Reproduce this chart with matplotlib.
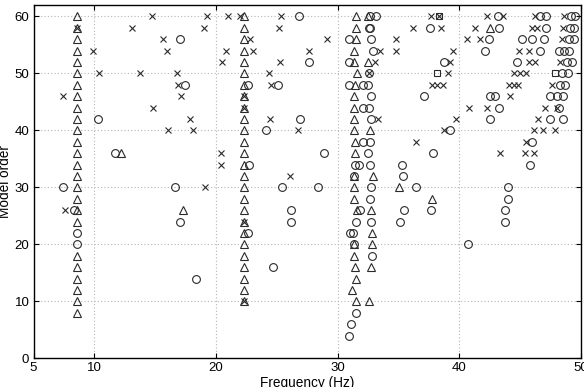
import matplotlib
matplotlib.use("Agg")
import matplotlib.pyplot as plt

# ---- data: stabilisation diagram (frequency in Hz, model order) ----
tri_freq = [8.58]*25 + [12.2, 17.3] + [22.3]*26 + [
    31.5, 31.5, 31.5, 31.36, 31.36, 31.6, 31.44, 31.36, 31.36, 31.36, 31.36, 31.44, 31.44,
    31.36, 31.36, 31.36, 31.6, 31.36, 31.36, 31.4, 31.5, 31.2, 31.5,
    32.5, 32.48, 32.67, 32.9, 32.73, 32.86, 32.8, 32.7, 32.6,
    35.0, 37.75, 42.5]
tri_order = [60, 58, 56, 54, 52, 50, 48, 46, 44, 42, 40, 38, 36, 34, 32, 30, 28, 26, 24,
             18, 16, 14, 12, 10, 8] + [36, 26] + [
    60, 58, 56, 54, 52, 50, 48, 46, 44, 42, 40, 38, 36, 34, 32, 30, 28, 26, 24, 22, 20,
    18, 16, 14, 12, 10] + [
    60, 58, 56, 54, 52, 50, 48, 46, 44, 42, 40, 38, 36,
    32, 30, 28, 26, 20, 18, 16, 14, 12, 10,
    60, 52, 40, 32, 26, 22, 20, 16, 10,
    30, 28, 58]

circ_freq = [7.45, 8.35, 8.58, 8.58, 10.28, 11.7, 16.6, 17.0, 17.46, 17.05, 18.34,
             22.67, 22.75, 22.67, 24.1, 24.7, 25.1, 25.46, 26.15, 26.15, 26.83, 26.9,
             27.66, 28.37, 28.9, 30.95, 30.95, 30.95, 31.0, 31.3, 31.5, 31.36, 31.36,
             31.85, 31.44, 31.77, 31.5, 31.08, 30.95,
             32.65, 33.15, 32.55, 32.65, 32.73, 32.9, 32.6, 32.1, 32.5, 32.73, 32.12, 32.6,
             32.73, 32.07, 32.67, 32.53, 32.67, 32.75, 32.67, 32.75, 32.8,
             35.25, 35.4, 35.47, 35.14, 36.43, 37.7, 37.6, 37.06, 37.8, 38.76, 39.2, 40.7,
             42.07, 42.46, 42.54, 42.54, 42.95, 43.14, 43.28, 43.22, 43.96, 43.96, 43.77,
             43.77, 44.74, 45.15, 46.0, 46.98, 46.65, 45.8, 46.0, 46.65, 47.1, 47.1,
             47.47, 48.0, 48.5, 48.2, 47.47, 48.5, 48.16, 48.62, 49.04, 48.85, 49.26,
             48.44, 48.9, 48.3, 48.7, 49.17, 49.53, 49.1, 49.45, 49.0, 49.4]
circ_order = [30, 26, 22, 20, 42, 36, 30, 56, 48, 24, 14,
              48, 34, 22, 40, 16, 48, 30, 26, 24, 60, 42,
              52, 30, 36, 56, 52, 48, 22, 22, 24, 20, 32,
              26, 34, 34, 8, 6, 4,
              60, 60, 58, 58, 56, 54, 50, 48, 48, 46, 44, 44,
              42, 38, 38, 36, 34, 30, 28, 24, 18,
              34, 32, 26, 24, 30, 26, 58, 46, 36, 52, 40, 20,
              54, 56, 46, 42, 46, 60, 58, 44, 30, 28, 26,
              24, 52, 56, 56, 56, 54, 34, 38, 60, 60, 58,
              46, 46, 46, 44, 42, 42, 54, 54, 54, 52, 52,
              50, 50, 48, 48, 60, 60, 58, 58, 56, 56]

cross_freq = [7.4, 7.59, 8.58, 9.87, 10.41, 13.07, 13.76, 14.7, 14.85, 15.67, 15.95,
              16.05, 16.78, 16.86, 17.1, 17.87, 18.09, 19.1, 19.24, 19.05, 20.4, 20.4,
              20.47, 20.8, 21.02, 21.98, 22.3, 22.3, 22.3, 22.3, 22.8, 23.08, 24.37,
              24.4, 24.53, 25.2, 25.27, 25.35, 26.1, 26.7, 27.66, 29.1, 32.6, 33.03,
              33.35, 33.5, 34.8, 34.8, 36.2, 36.45, 37.7, 38.5, 38.3, 37.75, 38.2, 38.65,
              38.7, 39.03, 39.25, 39.5, 39.72, 40.62, 40.76, 41.3, 41.72, 42.27, 42.27,
              43.36, 43.63, 44.13, 44.46, 44.05, 44.46, 44.82, 44.87, 45.0, 45.5, 45.5,
              45.4, 46.1, 45.7, 45.7, 46.24, 46.0, 46.4, 46.24, 46.1, 46.9, 47.9, 46.5,
              47.06, 47.6, 48.0, 48.3, 48.44, 48.5, 48.6]
cross_order = [46, 26, 58, 54, 50, 58, 50, 60, 44, 56, 54,
               40, 50, 48, 46, 42, 40, 30, 60, 58, 36, 34,
               52, 54, 60, 60, 46, 44, 24, 10, 56, 54, 50,
               42, 48, 58, 52, 60, 32, 40, 54, 56, 50, 52,
               42, 54, 56, 54, 58, 38, 60, 58, 60, 48, 48, 48,
               40, 50, 52, 54, 42, 56, 44, 58, 56, 60, 44,
               36, 60, 46, 50, 48, 48, 48, 54, 50, 50, 38,
               36, 36, 54, 52, 52, 58, 58, 60, 40, 40, 40, 42,
               44, 48, 44, 52, 56, 58, 60]

sq_freq = [38.3, 38.2, 47.9]
sq_order = [60, 50, 50]

x_ticks = [5, 10, 20, 30, 40, 50]
y_ticks = [0, 10, 20, 30, 40, 50, 60]

# ---- figure ----
plt.rcParams['font.family'] = ['Liberation Sans', 'DejaVu Sans']
fig = plt.figure(figsize=(5.84, 3.87), dpi=100)
ax = fig.add_axes([33.5/584, 1 - 358.3/387, (581 - 33.5)/584, (358.3 - 5)/387])

mc = '#2a2a2a'
ax.plot(tri_freq, tri_order, linestyle='none', marker='^', ms=6.2, mfc='none',
        mec=mc, mew=0.8)
ax.plot(circ_freq, circ_order, linestyle='none', marker='o', ms=5.6, mfc='none',
        mec=mc, mew=0.8)
ax.plot(cross_freq, cross_order, linestyle='none', marker='x', ms=3.8, mfc='none',
        mec=mc, mew=0.8)
ax.plot(sq_freq, sq_order, linestyle='none', marker='s', ms=4.6, mfc='none',
        mec=mc, mew=0.8)

ax.set_xlim(5, 50)
ax.set_ylim(0, 62)
ax.set_xticks(x_ticks)
ax.set_yticks(y_ticks)
ax.grid(True, color='#b5b5b5', linestyle=(0, (1, 2)), linewidth=0.8)
ax.set_axisbelow(True)
ax.tick_params(direction='in', length=3.5, width=0.8, top=True, right=True,
               labelsize=9.5, pad=3)
for s in ax.spines.values():
    s.set_linewidth(1.0)
ax.set_xlabel('Frequency (Hz)', fontsize=9.8, labelpad=1)
ax.set_ylabel('Model order', fontsize=9.8, labelpad=2)

fig.savefig('out.png', dpi=100)
